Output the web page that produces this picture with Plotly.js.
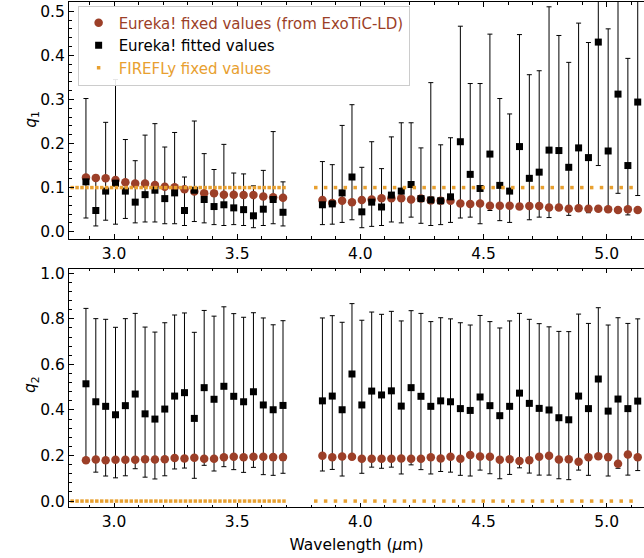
<!DOCTYPE html>
<html>
<head>
<meta charset="utf-8">
<script src="https://cdn.plot.ly/plotly-3.0.1.min.js"></script>
<style>html,body{margin:0;padding:0;background:#fff;overflow:hidden}</style>
</head>
<body>
<div id="chart" style="width:644px;height:558px"></div>
<script>
// Eureka! spectral bins (µm)
const wavelength = [2.886, 2.926, 2.966, 3.006, 3.046, 3.086, 3.126, 3.166, 3.206, 3.246, 3.286,
  3.326, 3.366, 3.406, 3.446, 3.486, 3.526, 3.566, 3.606, 3.646, 3.686,
  3.846, 3.886, 3.926, 3.966, 4.006, 4.046, 4.086, 4.126, 4.166, 4.206, 4.246,
  4.286, 4.326, 4.366, 4.406, 4.446, 4.486, 4.526, 4.566, 4.606, 4.646, 4.686,
  4.726, 4.766, 4.806, 4.846, 4.886, 4.926, 4.966, 5.006, 5.046, 5.086, 5.126];

// q1: fixed (ExoTiC-LD), fitted, and fitted upper / lower bounds
const q1_fixed = [0.123, 0.122, 0.121, 0.117, 0.112, 0.109, 0.109, 0.106, 0.102, 0.101, 0.096,
  0.091, 0.087, 0.087, 0.084, 0.084, 0.083, 0.083, 0.080, 0.078, 0.077,
  0.072, 0.065, 0.070, 0.067, 0.072, 0.073, 0.076, 0.076, 0.076, 0.073, 0.075,
  0.071, 0.070, 0.070, 0.064, 0.063, 0.064, 0.059, 0.059, 0.059, 0.057, 0.058,
  0.058, 0.055, 0.055, 0.052, 0.053, 0.052, 0.052, 0.051, 0.049, 0.051, 0.049];
const q1_fit = [0.113, 0.048, 0.092, 0.110, 0.092, 0.067, 0.084, 0.094, 0.075, 0.088, 0.048,
  0.094, 0.073, 0.057, 0.061, 0.054, 0.050, 0.036, 0.051, 0.073, 0.044,
  0.061, 0.063, 0.088, 0.124, 0.045, 0.067, 0.056, 0.083, 0.092, 0.107, 0.075,
  0.072, 0.070, 0.079, 0.204, 0.130, 0.098, 0.176, 0.105, 0.092, 0.193, 0.121,
  0.135, 0.185, 0.184, 0.146, 0.190, 0.168, 0.430, 0.183, 0.312, 0.150, 0.294];
const q1_upper = [0.302, 0.118, 0.248, 0.345, 0.209, 0.161, 0.219, 0.245, 0.192, 0.225, 0.124,
  0.251, 0.177, 0.141, 0.198, 0.133, 0.131, 0.104, 0.139, 0.227, 0.113,
  0.159, 0.152, 0.241, 0.288, 0.146, 0.204, 0.143, 0.215, 0.247, 0.247, 0.190,
  0.338, 0.197, 0.213, 0.466, 0.336, 0.336, 0.448, 0.302, 0.267, 0.447, 0.356,
  0.365, 0.510, 0.445, 0.384, 0.473, 0.429, 0.620, 0.460, 0.580, 0.393, 0.560];
const q1_lower = [0.031, 0.013, 0.026, 0.017, 0.030, 0.020, 0.022, 0.022, 0.018, 0.018, 0.014,
  0.023, 0.020, 0.016, 0.014, 0.016, 0.014, 0.009, 0.014, 0.018, 0.013,
  0.016, 0.017, 0.021, 0.027, 0.009, 0.012, 0.014, 0.022, 0.020, 0.033, 0.019,
  0.014, 0.016, 0.021, 0.031, 0.033, 0.018, 0.048, 0.025, 0.021, 0.055, 0.027,
  0.033, 0.032, 0.058, 0.037, 0.055, 0.043, 0.150, 0.050, 0.087, 0.038, 0.082];

// q2
const q2_fixed = [0.179, 0.183, 0.179, 0.181, 0.181, 0.181, 0.184, 0.183, 0.184, 0.189, 0.187,
  0.190, 0.186, 0.186, 0.192, 0.195, 0.192, 0.195, 0.195, 0.193, 0.193,
  0.199, 0.192, 0.196, 0.195, 0.186, 0.186, 0.186, 0.186, 0.187, 0.186, 0.186,
  0.192, 0.187, 0.195, 0.186, 0.202, 0.196, 0.195, 0.181, 0.184, 0.176, 0.179,
  0.195, 0.199, 0.183, 0.184, 0.173, 0.192, 0.197, 0.193, 0.164, 0.205, 0.192];
const q2_fit = [0.515, 0.436, 0.416, 0.379, 0.419, 0.470, 0.383, 0.360, 0.404, 0.461, 0.476,
  0.363, 0.498, 0.447, 0.504, 0.460, 0.436, 0.480, 0.422, 0.401, 0.420,
  0.440, 0.461, 0.401, 0.558, 0.422, 0.483, 0.466, 0.484, 0.417, 0.498, 0.460,
  0.416, 0.440, 0.436, 0.406, 0.398, 0.457, 0.419, 0.375, 0.416, 0.474, 0.429,
  0.407, 0.400, 0.366, 0.357, 0.461, 0.406, 0.536, 0.395, 0.448, 0.406, 0.439];
const q2_upper = [0.846, 0.801, 0.798, 0.763, 0.801, 0.824, 0.764, 0.742, 0.783, 0.817, 0.826,
  0.741, 0.837, 0.812, 0.853, 0.823, 0.807, 0.827, 0.804, 0.774, 0.792,
  0.804, 0.814, 0.785, 0.867, 0.794, 0.830, 0.820, 0.833, 0.791, 0.836, 0.824,
  0.788, 0.805, 0.800, 0.783, 0.773, 0.815, 0.788, 0.760, 0.791, 0.824, 0.798,
  0.779, 0.765, 0.745, 0.744, 0.821, 0.780, 0.849, 0.773, 0.805, 0.780, 0.800];
const q2_lower = [0.180, 0.127, 0.110, 0.102, 0.111, 0.142, 0.105, 0.097, 0.111, 0.141, 0.145,
  0.100, 0.157, 0.132, 0.151, 0.138, 0.126, 0.148, 0.116, 0.113, 0.122,
  0.132, 0.139, 0.110, 0.190, 0.122, 0.149, 0.144, 0.149, 0.119, 0.159, 0.138,
  0.119, 0.130, 0.127, 0.113, 0.110, 0.136, 0.120, 0.098, 0.117, 0.146, 0.123,
  0.114, 0.114, 0.098, 0.094, 0.136, 0.113, 0.190, 0.110, 0.144, 0.114, 0.134];

// FIREFLy wavelength grid and fixed values
const firefly_wavelength = [2.83, 2.85, 2.87, 2.89, 2.91, 2.93, 2.95, 2.97, 2.99, 3.01, 3.03,
  3.05, 3.07, 3.09, 3.11, 3.13, 3.15, 3.17, 3.19, 3.21, 3.23, 3.25, 3.27, 3.29,
  3.31, 3.33, 3.35, 3.37, 3.39, 3.41, 3.43, 3.45, 3.47, 3.49, 3.51, 3.53, 3.55,
  3.57, 3.59, 3.61, 3.63, 3.65, 3.67, 3.69,
  3.819, 3.859, 3.899, 3.939, 3.979, 4.019, 4.059, 4.099, 4.139, 4.179, 4.219,
  4.259, 4.299, 4.339, 4.379, 4.419, 4.459, 4.499, 4.539, 4.579, 4.619, 4.659,
  4.699, 4.739, 4.779, 4.819, 4.859, 4.899, 4.939, 4.979, 5.019, 5.059, 5.099];
const firefly_q1 = firefly_wavelength.map(() => 0.1);
const firefly_q2 = firefly_wavelength.map(() => 0.0);

const BROWN = '#9c3f28';
const ORANGE = '#e8a030';

function plus(fit, up) { return fit.map((v, i) => up[i] - v); }
function minus(fit, lo) { return fit.map((v, i) => v - lo[i]); }

const traces = [];
function panel(xa, ya, fixed, fit, up, lo, ff, legend) {
  traces.push({
    x: wavelength, y: fit, xaxis: xa, yaxis: ya, type: 'scatter', mode: 'markers',
    marker: {size: 7, color: 'rgba(0,0,0,0)'}, showlegend: false, hoverinfo: 'skip',
    error_y: {type: 'data', symmetric: false, array: plus(fit, up), arrayminus: minus(fit, lo),
      color: '#000', thickness: 1, width: 2.5}
  });
  traces.push({
    x: wavelength, y: fixed, xaxis: xa, yaxis: ya, type: 'scatter', mode: 'markers',
    name: '<span style="color:' + BROWN + '">Eureka! fixed values (from ExoTiC-LD)</span>',
    marker: {symbol: 'circle', size: 8.5, color: BROWN}, showlegend: legend, legendrank: 1
  });
  traces.push({
    x: wavelength, y: fit, xaxis: xa, yaxis: ya, type: 'scatter', mode: 'markers',
    name: 'Eureka! fitted values',
    marker: {symbol: 'square', size: 7, color: '#000'}, showlegend: legend, legendrank: 2
  });
  traces.push({
    x: firefly_wavelength, y: ff, xaxis: xa, yaxis: ya, type: 'scatter', mode: 'markers',
    name: '<span style="color:' + ORANGE + '">FIREFLy fixed values</span>',
    marker: {symbol: 'square', size: 3.5, color: ORANGE}, showlegend: legend, legendrank: 3
  });
}
panel('x2', 'y2', q1_fixed, q1_fit, q1_upper, q1_lower, firefly_q1, true);
panel('x', 'y', q2_fixed, q2_fit, q2_upper, q2_lower, firefly_q2, false);

const axisCommon = {
  showline: true, linecolor: '#000', linewidth: 1,
  ticks: 'inside', ticklen: 4.5, tickwidth: 1, tickcolor: '#000',
  showgrid: false, zeroline: false, tickfont: {size: 15.5, color: '#000'},
  tickformat: '.1f'
};
const xCommon = Object.assign({}, axisCommon, {
  mirror: 'allticks',
  range: [2.8172, 5.1515], tick0: 0, dtick: 0.5,
  minor: {ticks: 'inside', ticklen: 2.5, tickcolor: '#000', dtick: 0.1, showgrid: false}
});

const layout = {
  width: 644, height: 558,
  margin: {l: 69, r: 0, t: 2, b: 51},
  paper_bgcolor: '#fff', plot_bgcolor: '#fff',
  font: {family: 'DejaVu Sans', size: 15, color: '#000'},
  showlegend: true,
  legend: {x: 0.015, xanchor: 'left', y: 0.993, yanchor: 'top',
    bgcolor: 'rgba(255,255,255,0.9)', bordercolor: '#cccccc', borderwidth: 1,
    font: {size: 15, family: 'DejaVu Sans'}, tracegroupgap: 0},
  xaxis: Object.assign({}, xCommon, {anchor: 'y', domain: [0, 1],
    title: {text: 'Wavelength (<i>μ</i>m)', font: {size: 15.5}, standoff: 9}}),
  xaxis2: Object.assign({}, xCommon, {anchor: 'y2', domain: [0, 1], matches: 'x'}),
  yaxis: Object.assign({}, axisCommon, {anchor: 'x', domain: [0, 0.4713],
    range: [-0.026, 1.019], tick0: 0, dtick: 0.2,
    minor: {ticks: 'inside', ticklen: 2.5, tickcolor: '#000', dtick: 0.04, showgrid: false}}),
  yaxis2: Object.assign({}, axisCommon, {anchor: 'x2', domain: [0.5307, 1],
    range: [-0.0166, 0.5209], tick0: 0, dtick: 0.1,
    minor: {ticks: 'inside', ticklen: 2.5, tickcolor: '#000', dtick: 0.02, showgrid: false}}),
  annotations: [
    {text: '<i>q</i><sub>1</sub>', xref: 'paper', yref: 'paper', x: -0.044, xanchor: 'right',
      y: 0.768, yanchor: 'middle', textangle: -90, showarrow: false, font: {size: 15.5, color: '#000'}},
    {text: '<i>q</i><sub>2</sub>', xref: 'paper', yref: 'paper', x: -0.044, xanchor: 'right',
      y: 0.243, yanchor: 'middle', textangle: -90, showarrow: false, font: {size: 15.5, color: '#000'}}
  ]
};

Plotly.newPlot('chart', traces, layout, {displayModeBar: false, staticPlot: true});
</script>
</body>
</html>
